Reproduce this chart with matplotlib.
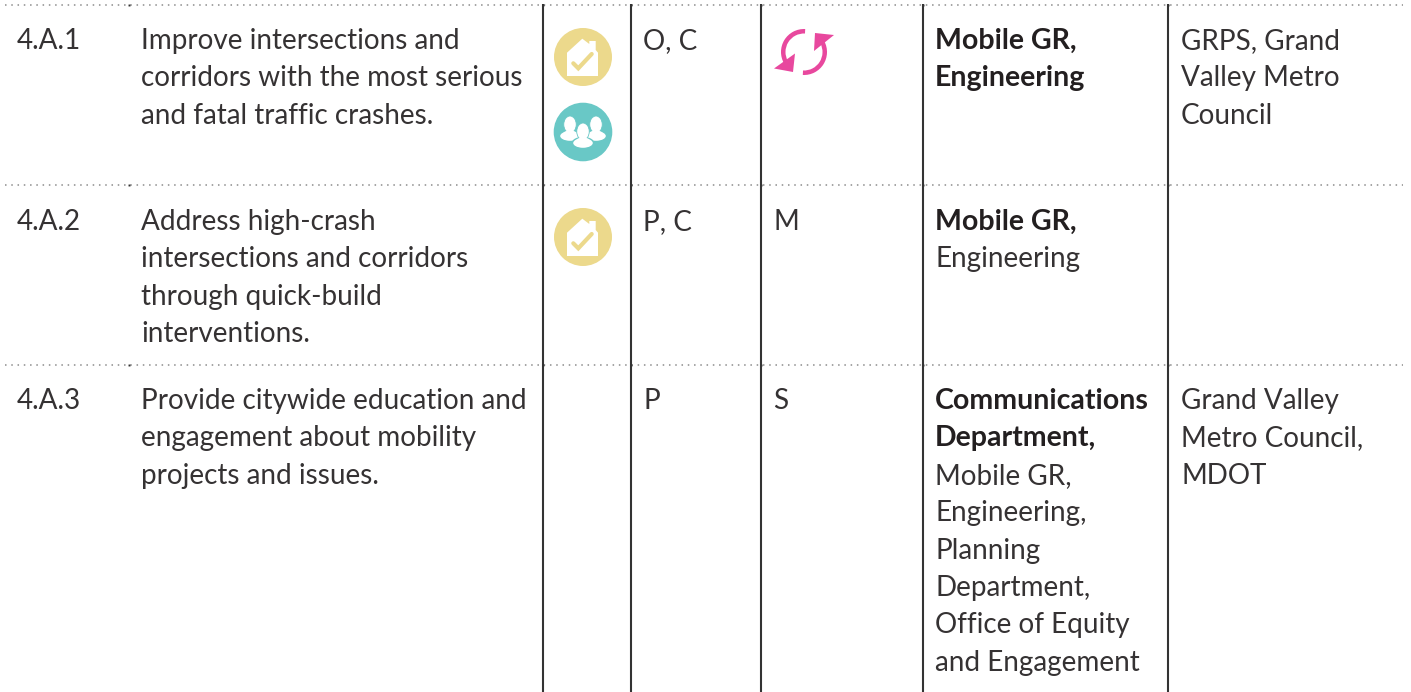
import matplotlib
matplotlib.use("Agg")
import matplotlib.pyplot as plt
import matplotlib.patches as mpatches

FONT = "Lato"
FONT_SIZE = 20.1
BOLD_SIZE = 20.5
TEXT_COLOR = "#353233"
BOLD_COLOR = "#231f20"
LINE_COLOR = "#333333"
YELLOW = "#ecd98c"
TEAL = "#69c8c6"
PINK = "#e8489e"

WIDTH, HEIGHT = 1411, 692

col_x = [17, 141, 643, 773, 935, 1181]
rule_x = [543, 631, 761, 923, 1168]
row_y = [5, 185, 365]
first_baseline = [49, 230, 409]
line_step = 37.4

ids = ["4.A.1", "4.A.2", "4.A.3"]
actions = [
    ["Improve intersections and", "corridors with the most serious", "and fatal traffic crashes."],
    ["Address high-crash", "intersections and corridors", "through quick-build", "interventions."],
    ["Provide citywide education and", "engagement about mobility", "projects and issues."],
]
types = ["O, C", "P, C", "P"]
timing = ["", "M", "S"]
lead_bold = [
    ["Mobile GR,", "Engineering"],
    ["Mobile GR,"],
    ["Communications", "Department,"],
]
lead_plain = [
    [],
    ["Engineering"],
    ["Mobile GR,", "Engineering,", "Planning", "Department,", "Office of Equity", "and Engagement"],
]
partners = [
    ["GRPS, Grand", "Valley Metro", "Council"],
    [],
    ["Grand Valley", "Metro Council,", "MDOT"],
]


def put_lines(ax, x, base, lines, start=0, weight="normal"):
    color = BOLD_COLOR if weight == "bold" else TEXT_COLOR
    size = BOLD_SIZE if weight == "bold" else FONT_SIZE
    for i, line in enumerate(lines):
        ax.text(x, base + (start + i) * line_step, line, fontsize=size, family=FONT,
                color=color, weight=weight, ha="left", va="baseline")


def house_icon(ax, cx, cy):
    ax.add_patch(mpatches.Circle((cx, cy), 29, color=YELLOW, lw=0))
    house = [(-16, 19), (15, 19), (15, -4.3), (12.7, -7), (12.7, -16), (6.3, -16),
             (6.3, -13), (-0.7, -18.3), (-16, -4.3)]
    ax.add_patch(mpatches.Polygon([(cx + x, cy + y) for x, y in house], color="white", lw=0))
    ax.plot([cx - 9.7, cx - 4.7, cx + 8.7], [cy + 6.3, cy + 11.3, cy - 3],
            color=YELLOW, lw=3, solid_capstyle="round", solid_joinstyle="miter")


def people_icon(ax, cx, cy):
    ax.add_patch(mpatches.Circle((cx, cy), 29.3, color=TEAL, lw=0))
    for dx, dy in [(-13, -7), (13, -7), (0, 0)]:
        ax.add_patch(mpatches.Ellipse((cx + dx, cy + dy + 11), 21, 11, fc="white", ec=TEAL, lw=1.0))
        ax.add_patch(mpatches.Ellipse((cx + dx, cy + dy - 0.5), 12.5, 17, fc="white", ec=TEAL, lw=0.6))
        ax.add_patch(mpatches.Ellipse((cx + dx, cy + dy + 9), 14, 7, fc="white", lw=0))


def cycle_icon(ax, cx, cy):
    ax.add_patch(mpatches.Wedge((cx, cy), 23, 150, 273, width=4.5, color=PINK, lw=0))
    ax.add_patch(mpatches.Wedge((cx, cy), 23, -28, 93, width=4.5, color=PINK, lw=0))
    ax.add_patch(mpatches.Polygon([(cx - 30, cy + 16.5), (cx - 11, cy + 20), (cx - 9, cy + 1.5)], color=PINK, lw=0))
    ax.add_patch(mpatches.Polygon([(cx + 11, cy - 19), (cx + 30, cy - 17), (cx + 10, cy - 1)], color=PINK, lw=0))


fig = plt.figure(figsize=(WIDTH / 100, HEIGHT / 100), dpi=100)
ax = fig.add_axes([0, 0, 1, 1])
ax.set_xlim(0, WIDTH)
ax.set_ylim(HEIGHT, 0)
ax.axis("off")

for y in row_y:
    ax.plot([5, 1403], [y, y], color="#8c8c8c", lw=1.1, ls=(0, (1, 3.1)))
    ax.plot([129] + rule_x, [y] * 6, ls="none", marker="s", ms=1.4, color="#333333", mew=0)
for x in rule_x:
    ax.plot([x, x], [4, HEIGHT], color=LINE_COLOR, lw=1.5, solid_capstyle="butt")

for r, base in enumerate(first_baseline):
    put_lines(ax, col_x[0], base, [ids[r]])
    put_lines(ax, col_x[1], base, actions[r])
    put_lines(ax, col_x[2], base, [types[r]])
    put_lines(ax, col_x[3], base, [timing[r]])
    put_lines(ax, col_x[4], base, lead_bold[r], weight="bold")
    put_lines(ax, col_x[4], base, lead_plain[r], start=len(lead_bold[r]))
    put_lines(ax, col_x[5], base, partners[r])

house_icon(ax, 583, 57)
people_icon(ax, 583, 132)
house_icon(ax, 583, 237)
cycle_icon(ax, 804, 52)

fig.savefig("out.png", dpi=100, facecolor="white")
